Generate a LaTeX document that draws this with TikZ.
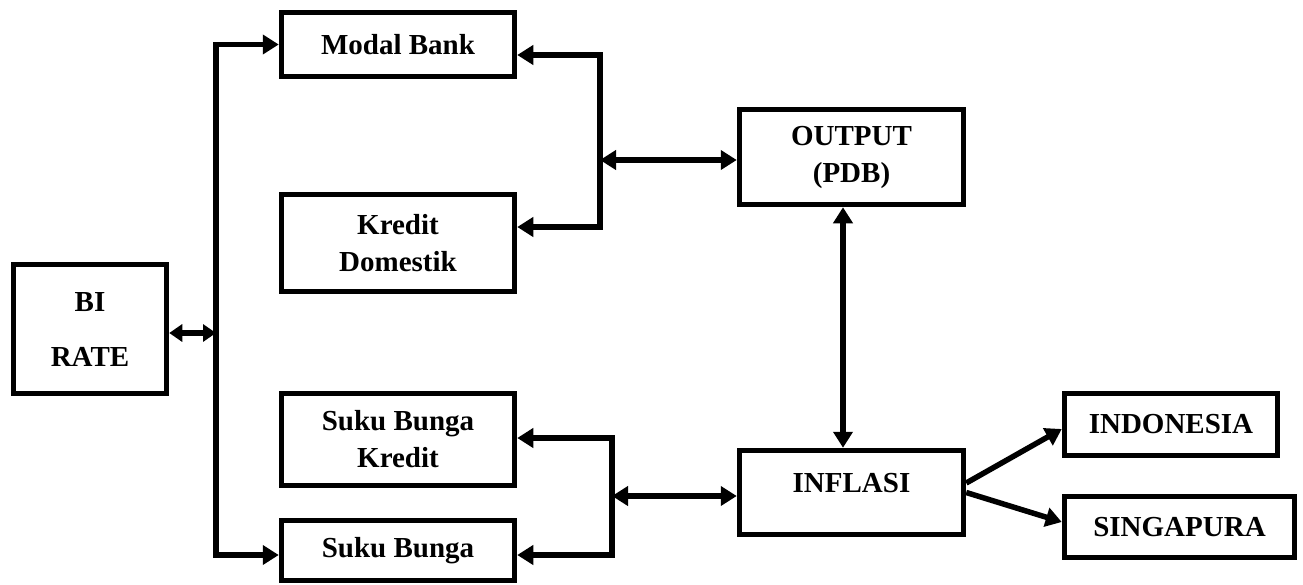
\documentclass[tikz,border=0pt]{standalone}
\usepackage{fontspec}
\setmainfont{Liberation Serif}
\usetikzlibrary{arrows.meta}
\begin{document}
\begin{tikzpicture}[x=1pt,y=-1pt,
  box/.style={draw, line width=5.5pt, inner sep=0pt, align=center,
    font=\fontsize{29}{37}\selectfont\bfseries},
  arr/.style={line width=5.5pt, -{Triangle[length=16pt,width=19pt]}},
  darr/.style={line width=5.5pt, {Triangle[length=16pt,width=19pt]}-{Triangle[length=16pt,width=19pt]}},
  sdarr/.style={line width=5.5pt, {Triangle[length=13pt,width=17pt]}-{Triangle[length=13pt,width=17pt]}}]
\useasboundingbox (0,0) rectangle (1303,584);
% boxes
\node[box, minimum width=153pt, minimum height=129pt] (bi) at (90,329) {BI\\[18pt]RATE};
\node[box, minimum width=233pt, minimum height=64pt] (modal) at (398,44.5) {Modal Bank};
\node[box, minimum width=233pt, minimum height=97pt] (kredit) at (398,243) {Kredit\\Domestik};
\node[box, minimum width=233pt, minimum height=92pt] (sbk) at (398,439.5) {Suku Bunga\\Kredit};
\node[box, minimum width=233pt, minimum height=60pt] (sb) at (398,550.5) {Suku Bunga};
\node[box, minimum width=224pt, minimum height=95pt] (output) at (851.5,157) {OUTPUT\\(PDB)};
\node[box, minimum width=224pt, minimum height=84pt] (inflasi) at (851.5,492.5) {\raisebox{9pt}[\height][\depth]{INFLASI}};
\node[box, minimum width=213pt, minimum height=62pt] (indo) at (1171,424.5) {INDONESIA};
\node[box, minimum width=230pt, minimum height=61pt] (sing) at (1179.5,527) {SINGAPURA};
% junction coordinates
\coordinate (tr) at (216,333);
\coordinate (trtop) at (216,44.5);
\coordinate (trbot) at (216,555);
\coordinate (rt) at (600,55);
\coordinate (rm) at (600,160);
\coordinate (rb) at (600,227);
\coordinate (lt) at (612,438);
\coordinate (lm) at (612,496);
\coordinate (lb) at (612,555);
\coordinate (vx) at (843,0);
% left trunk
\draw[sdarr] (bi.east |- tr) -- (tr);
\draw[arr] (tr) -- (trtop) -- (modal.west |- trtop);
\draw[arr] (tr) -- (trbot) -- (sb.west |- trbot);
% upper bracket
\draw[arr] (rm) -- (rt) -- (modal.east |- rt);
\draw[arr] (rm) -- (rb) -- (kredit.east |- rb);
\draw[darr] (rm) -- (output.west |- rm);
% lower bracket
\draw[arr] (lm) -- (lt) -- (sbk.east |- lt);
\draw[arr] (lm) -- (lb) -- (sb.east |- lb);
\draw[darr] (lm) -- (inflasi.west |- lm);
% output <-> inflasi
\draw[darr] (output.south -| vx) -- (inflasi.north -| vx);
% inflasi to countries
\draw[arr] ([yshift=9.5pt]inflasi.east) -- ([yshift=-4.5pt]indo.west);
\draw[arr] (inflasi.east) -- ([yshift=5pt]sing.west);
\end{tikzpicture}
\end{document}
